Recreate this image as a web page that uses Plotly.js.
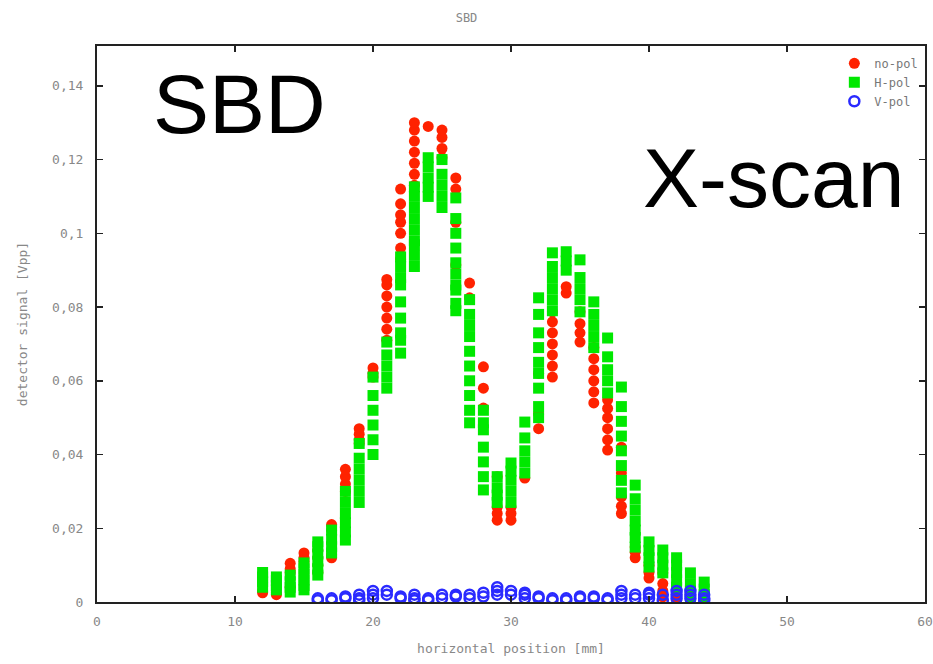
<!DOCTYPE html>
<html>
<head>
<meta charset="utf-8">
<script src="https://cdn.plot.ly/plotly-3.0.1.min.js"></script>
<style>html,body{margin:0;padding:0;background:#fff;}#chart{width:933px;height:664px;}</style>
</head>
<body>
<div id="chart"></div>
<script>
// Scan positions [mm]
const positions = [12,13,14,15,16,17,18,19,20,21,22,23,24,25,26,27,28,29,30,31,32,33,34,35,36,37,38,39,40,41,42,43,44];

// no-pol readings per position [Vpp]
const noPolVals = [
  [0.0025, 0.003],
  [0.002, 0.0025],
  [0.004, 0.008, 0.009, 0.0105],
  [0.011, 0.012, 0.0133],
  [0.008, 0.010, 0.012, 0.014],
  [0.012, 0.0128, 0.0195, 0.021],
  [0.030, 0.032, 0.034, 0.036],
  [0.043, 0.044, 0.0455, 0.047],
  [0.061, 0.062, 0.0635],
  [0.071, 0.074, 0.077, 0.080, 0.083, 0.086, 0.0875],
  [0.093, 0.096, 0.100, 0.103, 0.105, 0.108, 0.112],
  [0.113, 0.116, 0.119, 0.122, 0.125, 0.128, 0.130],
  [0.129],
  [0.1205, 0.123, 0.126, 0.128],
  [0.0914, 0.103, 0.112, 0.115],
  [0.0825, 0.0865],
  [0.0526, 0.058, 0.0638],
  [0.0222, 0.024, 0.0258, 0.034],
  [0.0222, 0.024, 0.0258],
  [0.0336],
  [0.047, 0.051, 0.062],
  [0.061, 0.064, 0.067, 0.070, 0.073, 0.076, 0.0787],
  [0.0838, 0.0855],
  [0.0705, 0.073, 0.0755, 0.0787],
  [0.054, 0.057, 0.060, 0.063, 0.066, 0.069],
  [0.0412, 0.044, 0.047, 0.050, 0.0525, 0.0548],
  [0.024, 0.026, 0.0285, 0.035, 0.042],
  [0.012, 0.0135, 0.0149],
  [0.0065, 0.008, 0.010],
  [0.0014, 0.003, 0.005, 0.0079],
  [0.0005, 0.002, 0.0035, 0.0046],
  [0.0014, 0.002],
  [0.001]
];

// H-pol readings per position [Vpp]
const hPolVals = [
  [0.004, 0.0055, 0.0068, 0.008],
  [0.0033, 0.0045, 0.0058, 0.0068],
  [0.0027, 0.004, 0.0055, 0.0073],
  [0.0033, 0.0045, 0.006, 0.0075, 0.009, 0.0106],
  [0.0073, 0.009, 0.011, 0.013, 0.015, 0.0163],
  [0.0133, 0.015, 0.017, 0.0195],
  [0.0168, 0.019, 0.0215, 0.024, 0.027, 0.030],
  [0.027, 0.030, 0.033, 0.036, 0.039, 0.043],
  [0.040, 0.044, 0.048, 0.052, 0.056, 0.061],
  [0.058, 0.061, 0.064, 0.067, 0.0705],
  [0.0675, 0.071, 0.073, 0.077, 0.0814, 0.086, 0.088, 0.091, 0.0936],
  [0.091, 0.094, 0.0969, 0.098, 0.101, 0.104, 0.107, 0.110, 0.1126],
  [0.110, 0.1125, 0.115, 0.118, 0.1205],
  [0.107, 0.110, 0.113, 0.116, 0.120],
  [0.079, 0.081, 0.0846, 0.086, 0.089, 0.092, 0.096, 0.100, 0.104, 0.1096],
  [0.0486, 0.052, 0.056, 0.060, 0.064, 0.068, 0.072, 0.075, 0.078, 0.082],
  [0.0304, 0.034, 0.038, 0.042, 0.0467, 0.0486, 0.052],
  [0.027, 0.029, 0.031, 0.034],
  [0.027, 0.030, 0.033, 0.0355, 0.0377],
  [0.035, 0.038, 0.041, 0.0445, 0.0488],
  [0.050, 0.053, 0.058, 0.062, 0.065, 0.069, 0.073, 0.078, 0.0825],
  [0.079, 0.082, 0.085, 0.088, 0.091, 0.0947],
  [0.090, 0.0925, 0.095],
  [0.0787, 0.082, 0.085, 0.088, 0.0928],
  [0.069, 0.072, 0.075, 0.078, 0.0814],
  [0.0567, 0.060, 0.063, 0.0665, 0.0716],
  [0.0296, 0.033, 0.037, 0.041, 0.045, 0.049, 0.053, 0.0583],
  [0.0149, 0.0175, 0.0195, 0.022, 0.025, 0.028, 0.0317],
  [0.0095, 0.012, 0.014, 0.0163],
  [0.0079, 0.010, 0.012, 0.0141],
  [0.004, 0.006, 0.008, 0.010, 0.012],
  [0.0014, 0.003, 0.005, 0.0079],
  [0.0005, 0.002, 0.0035, 0.0054]
];

// V-pol scan positions and readings [Vpp]
const vPolPositions = [16,17,18,19,20,21,22,23,24,25,26,27,28,29,30,31,32,33,34,35,36,37,38,39,40,41,42,43,44];
const vPolVals = [
  [0.0005, 0.001],
  [0.0005, 0.001],
  [0.001, 0.0015],
  [0.0005, 0.001, 0.002],
  [0.001, 0.002, 0.003],
  [0.002, 0.003],
  [0.001, 0.0015],
  [0.0005, 0.001, 0.002],
  [0.0005, 0.001],
  [0.001, 0.002],
  [0.0015, 0.002],
  [0.001, 0.002],
  [0.0015, 0.0025],
  [0.002, 0.003, 0.004],
  [0.002, 0.003],
  [0.001, 0.002, 0.0025],
  [0.001, 0.0015],
  [0.0005, 0.001],
  [0.0005, 0.001],
  [0.001, 0.0015],
  [0.001, 0.0015],
  [0.0005, 0.001],
  [0.001, 0.002, 0.003],
  [0.001, 0.002],
  [0.001, 0.002, 0.0025],
  [0.0005, 0.002],
  [0.001, 0.002, 0.003],
  [0.001, 0.002, 0.003],
  [0.0005, 0.001, 0.002]
];

const seriesNames = ['no-pol', 'H-pol', 'V-pol'];
const xTicks = [0, 10, 20, 30, 40, 50, 60];
const yTicks = [0, 0.02, 0.04, 0.06, 0.08, 0.1, 0.12, 0.14];

function flatten(pos, vals) {
  const xs = [], ys = [];
  pos.forEach((p, i) => vals[i].forEach(v => { xs.push(p); ys.push(v); }));
  return {x: xs, y: ys};
}

const a = flatten(positions, noPolVals);
const b = flatten(positions, hPolVals);
const c = flatten(vPolPositions, vPolVals);

const traces = [
  {x: a.x, y: a.y, name: seriesNames[0], type: 'scatter', mode: 'markers',
   marker: {symbol: 'circle', size: 11, color: '#ff2200', line: {width: 0}}},
  {x: b.x, y: b.y, name: seriesNames[1], type: 'scatter', mode: 'markers',
   marker: {symbol: 'square', size: 11, color: '#00e800', line: {width: 0}}},
  {x: c.x, y: c.y, name: seriesNames[2], type: 'scatter', mode: 'markers',
   marker: {symbol: 'circle-open', size: 10, color: '#2a2aff', line: {width: 2.5, color: '#2a2aff'}}}
];

const mono = 'DejaVu Sans Mono, monospace';
const tickFont = {family: mono, size: 13, color: '#888'};
const labelFont = {family: mono, size: 13, color: '#888'};

const layout = {
  width: 933, height: 664,
  margin: {l: 97, r: 8, t: 46, b: 62, pad: 0},
  paper_bgcolor: '#fff', plot_bgcolor: '#fff',
  separators: ', ',
  showlegend: true,
  legend: {x: 0.998, y: 0.995, xanchor: 'right', yanchor: 'top',
           bgcolor: 'rgba(0,0,0,0)', font: {family: mono, size: 12, color: '#777'},
           itemwidth: 30, tracegroupgap: 0},
  title: {text: 'SBD', font: {family: mono, size: 12, color: '#888'},
          x: 0.5, xanchor: 'center', y: 0.973, yanchor: 'middle'},
  xaxis: {range: [0, 60], tickvals: xTicks, ticks: 'inside', ticklen: 6, tickwidth: 1.5, tickcolor: '#222',
          showline: true, linecolor: '#222', linewidth: 2, mirror: 'ticks', showgrid: false, zeroline: false,
          tickfont: tickFont, ticklabelstandoff: 6,
          title: {text: 'horizontal position [mm]', font: labelFont, standoff: 16}},
  yaxis: {range: [0, 0.1508], tickvals: yTicks, ticks: 'inside', ticklen: 6, tickwidth: 1.5, tickcolor: '#222',
          showline: true, linecolor: '#222', linewidth: 2, mirror: 'ticks', showgrid: false, zeroline: false,
          tickfont: tickFont, ticklabelstandoff: 9,
          title: {text: 'detector signal [Vpp]', font: labelFont, standoff: 22}},
  annotations: [
    {text: 'SBD', xref: 'paper', yref: 'paper', x: 0.1715, y: 0.896, xanchor: 'center', yanchor: 'middle',
     showarrow: false, font: {family: 'Liberation Sans, Arial, sans-serif', size: 84, color: '#000'}},
    {text: 'X-scan', xref: 'paper', yref: 'paper', x: 0.8165, y: 0.762, xanchor: 'center', yanchor: 'middle',
     showarrow: false, font: {family: 'Liberation Sans, Arial, sans-serif', size: 84, color: '#000'}}
  ]
};

Plotly.newPlot('chart', traces, layout, {displayModeBar: false, staticPlot: true});
</script>
</body>
</html>
